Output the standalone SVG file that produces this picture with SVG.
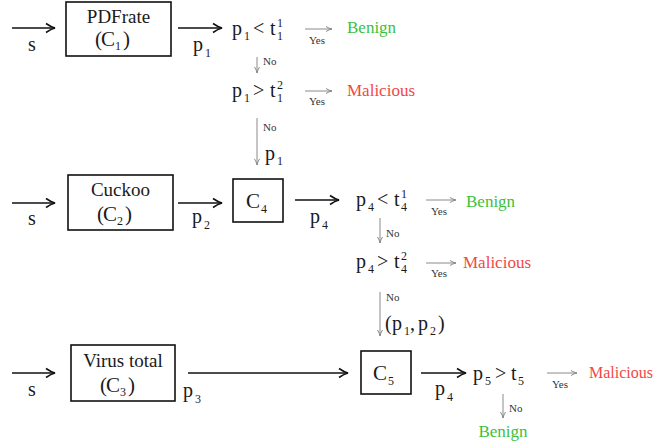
<svg xmlns="http://www.w3.org/2000/svg" width="656" height="446" viewBox="0 0 656 446">
<style>
text{font-family:"Liberation Serif","DejaVu Serif",serif;fill:#1a1a1a}
.m{font-size:20px}
.sb{font-size:12px}
.bx{font-size:19px}
.bc{font-size:21px}
.sm{font-size:11px;fill:#333}
.g{font-size:17px;fill:#3cbf3c}
.r{font-size:17px;fill:#f04848}
.box{fill:#fff;stroke:#111;stroke-width:1.6}
.k{stroke:#111;stroke-width:1.6;fill:none}
.y{stroke:#8a8a8a;stroke-width:1;fill:none}
</style>
<defs>
<marker id="ak" markerWidth="12" markerHeight="12" refX="10" refY="6" orient="auto" markerUnits="userSpaceOnUse">
<path d="M1,1.5 Q6,5 10,6 Q6,7 1,10.5" fill="none" stroke="#111" stroke-width="1.6"/>
</marker>
<marker id="ag" markerWidth="8" markerHeight="8" refX="7" refY="4" orient="auto" markerUnits="userSpaceOnUse">
<path d="M1,1.5 Q4,3.5 7,4 Q4,4.5 1,6.5" fill="none" stroke="#8a8a8a" stroke-width="1"/>
</marker>
</defs>
<g id="connectors">
<line class="k" x1="12" y1="28" x2="55" y2="28" marker-end="url(#ak)"/>
<line class="k" x1="178" y1="28" x2="222" y2="28" marker-end="url(#ak)"/>
<line class="k" x1="12" y1="203" x2="55" y2="203" marker-end="url(#ak)"/>
<line class="k" x1="178" y1="203" x2="222" y2="203" marker-end="url(#ak)"/>
<line class="k" x1="295" y1="200" x2="339" y2="200" marker-end="url(#ak)"/>
<line class="k" x1="12" y1="373" x2="55" y2="373" marker-end="url(#ak)"/>
<line class="k" x1="188" y1="373" x2="348" y2="373" marker-end="url(#ak)"/>
<line class="k" x1="421" y1="373" x2="466" y2="373" marker-end="url(#ak)"/>
<line class="y" x1="305" y1="29" x2="332" y2="29" marker-end="url(#ag)"/>
<line class="y" x1="305" y1="91" x2="332" y2="91" marker-end="url(#ag)"/>
<line class="y" x1="426" y1="200" x2="456" y2="200" marker-end="url(#ag)"/>
<line class="y" x1="426" y1="263" x2="456" y2="263" marker-end="url(#ag)"/>
<line class="y" x1="547" y1="373" x2="577" y2="373" marker-end="url(#ag)"/>
<line class="y" x1="257" y1="57" x2="257" y2="73" marker-end="url(#ag)"/>
<line class="y" x1="257" y1="118" x2="257" y2="165" marker-end="url(#ag)"/>
<line class="y" x1="380" y1="218" x2="380" y2="243" marker-end="url(#ag)"/>
<line class="y" x1="380" y1="292" x2="380" y2="336" marker-end="url(#ag)"/>
<line class="y" x1="503" y1="394" x2="503" y2="418" marker-end="url(#ag)"/>
</g>
<g id="labels">
<text class="m" x="32" y="51" text-anchor="middle">s</text>
<text class="m" x="32" y="225" text-anchor="middle">s</text>
<text class="m" x="32" y="396" text-anchor="middle">s</text>
<text class="m" x="193" y="51">p<tspan class="sb" x="205" y="57">1</tspan></text>
<text class="m" x="192" y="223">p<tspan class="sb" x="204" y="229">2</tspan></text>
<text class="m" x="310" y="223">p<tspan class="sb" x="322" y="229">4</tspan></text>
<text class="m" x="183" y="397">p<tspan class="sb" x="195" y="403">3</tspan></text>
<text class="m" x="435" y="395">p<tspan class="sb" x="447" y="401">4</tspan></text>
<text class="sm" x="317" y="44" text-anchor="middle">Yes</text>
<text class="sm" x="317" y="105" text-anchor="middle">Yes</text>
<text class="sm" x="439" y="215" text-anchor="middle">Yes</text>
<text class="sm" x="439" y="277" text-anchor="middle">Yes</text>
<text class="sm" x="560" y="388" text-anchor="middle">Yes</text>
<text class="sm" x="263" y="65">No</text>
<text class="sm" x="263" y="131">No</text>
<text class="sm" x="386" y="237">No</text>
<text class="sm" x="386" y="301">No</text>
<text class="sm" x="509" y="412">No</text>
</g>
<g id="c1">
<rect class="box" x="66" y="2" width="105" height="54"/>
<text class="bx" x="118.5" y="23" text-anchor="middle">PDFrate</text>
<text class="bc" x="95" y="46">(<tspan x="101">C</tspan><tspan class="sb" x="115" y="50">1</tspan><tspan x="123" y="46">)</tspan></text>
</g>
<g id="c2">
<rect class="box" x="68" y="175" width="105" height="55"/>
<text class="bx" x="120.5" y="196" text-anchor="middle">Cuckoo</text>
<text class="bc" x="97" y="221">(<tspan x="103">C</tspan><tspan class="sb" x="117" y="225">2</tspan><tspan x="125" y="221">)</tspan></text>
</g>
<g id="c3">
<rect class="box" x="71" y="345" width="104" height="56"/>
<text class="bx" x="123" y="367" text-anchor="middle">Virus total</text>
<text class="bc" x="100" y="392">(<tspan x="106">C</tspan><tspan class="sb" x="120" y="396">3</tspan><tspan x="128" y="392">)</tspan></text>
</g>
<g id="c4">
<rect class="box" x="233" y="179" width="50" height="43"/>
<text class="bc" x="246" y="208">C<tspan class="sb" x="261" y="213">4</tspan></text>
</g>
<g id="c5">
<rect class="box" x="361" y="351" width="50" height="43"/>
<text class="bc" x="373" y="380">C<tspan class="sb" x="388" y="385">5</tspan></text>
</g>
<g id="t1a">
<text class="m" x="232" y="35">p<tspan class="sb" x="244" y="40">1</tspan><tspan x="253" y="35">&lt;</tspan><tspan x="270" y="35">t</tspan><tspan class="sb" x="277" y="40">1</tspan><tspan class="sb" x="277" y="27">1</tspan></text>
</g>
<g id="t1b">
<text class="m" x="232" y="97">p<tspan class="sb" x="244" y="102">1</tspan><tspan x="253" y="97">&gt;</tspan><tspan x="270" y="97">t</tspan><tspan class="sb" x="277" y="102">1</tspan><tspan class="sb" x="277" y="89">2</tspan></text>
</g>
<g id="p1out"><text class="m" x="265" y="160">p<tspan class="sb" x="277" y="165">1</tspan></text></g>
<g id="t4a">
<text class="m" x="356" y="206">p<tspan class="sb" x="368" y="211">4</tspan><tspan x="377" y="206">&lt;</tspan><tspan x="394" y="206">t</tspan><tspan class="sb" x="401" y="211">4</tspan><tspan class="sb" x="401" y="198">1</tspan></text>
</g>
<g id="t4b">
<text class="m" x="356" y="268">p<tspan class="sb" x="368" y="273">4</tspan><tspan x="377" y="268">&gt;</tspan><tspan x="394" y="268">t</tspan><tspan class="sb" x="401" y="273">4</tspan><tspan class="sb" x="401" y="260">2</tspan></text>
</g>
<g id="p12"><text class="m" x="385" y="330">(<tspan x="392">p</tspan><tspan class="sb" x="404" y="335">1</tspan><tspan x="410" y="330">,</tspan><tspan x="418">p</tspan><tspan class="sb" x="430" y="335">2</tspan><tspan x="438" y="330">)</tspan></text></g>
<g id="t5">
<text class="m" x="473" y="380">p<tspan class="sb" x="485" y="385">5</tspan><tspan x="495" y="380">&gt;</tspan><tspan x="511" y="380">t</tspan><tspan class="sb" x="518" y="385">5</tspan></text>
</g>
<g id="outcomes">
<text class="g" x="347" y="33">Benign</text>
<text class="r" x="347" y="96">Malicious</text>
<text class="g" x="466" y="207">Benign</text>
<text class="r" x="463" y="268">Malicious</text>
<text class="r" x="589" y="378" style="font-size:16px">Malicious</text>
<text class="g" x="503" y="437" text-anchor="middle">Benign</text>
</g>
</svg>
